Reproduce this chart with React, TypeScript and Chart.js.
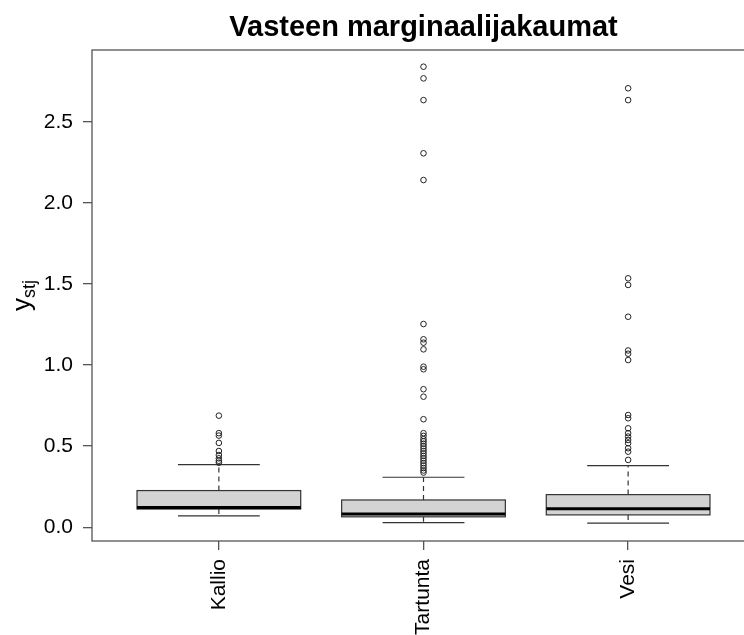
import React, { useEffect, useRef } from 'react';
import { Chart, registerables } from 'chart.js';

Chart.register(...registerables);

const chartTitle = 'Vasteen marginaalijakaumat';
const categories = ['Kallio', 'Tartunta', 'Vesi'];
const whiskerLow = [0.07, 0.028, 0.025];
const q1 = [0.112, 0.064, 0.076];
const medians = [0.121, 0.081, 0.114];
const q3 = [0.226, 0.168, 0.201];
const whiskerHigh = [0.386, 0.308, 0.38];
const kallioOutliers = [0.688, 0.58, 0.565, 0.52, 0.47, 0.445, 0.425, 0.41, 0.398];
const tartuntaOutliers = [
  2.84, 2.768, 2.634, 2.306, 2.141, 1.253, 1.159, 1.138, 1.097, 0.99, 0.974, 0.851, 0.805,
  0.666, 0.58, 0.563, 0.543, 0.53, 0.515, 0.5, 0.485, 0.47, 0.455, 0.44, 0.425, 0.41,
  0.395, 0.38, 0.365, 0.35, 0.337,
];
const vesiOutliers = [
  2.707, 2.634, 1.535, 1.494, 1.298, 1.09, 1.07, 1.031, 0.692, 0.672, 0.61, 0.58, 0.559,
  0.538, 0.518, 0.487, 0.466, 0.415,
];
const yTicks = [0, 0.5, 1, 1.5, 2, 2.5];

const FONT = "'Liberation Sans', Arial, sans-serif";

const boxPlugin = {
  id: 'rBoxplot',
  beforeDatasetsDraw(chart: any) {
    const { ctx } = chart;
    const x = chart.scales.x;
    const y = chart.scales.y;
    ctx.save();
    categories.forEach((_, i) => {
      const c = i + 1;
      const xc = x.getPixelForValue(c);
      const xl = x.getPixelForValue(c - 0.4);
      const xr = x.getPixelForValue(c + 0.4);
      const cl = x.getPixelForValue(c - 0.2);
      const cr = x.getPixelForValue(c + 0.2);
      const yLo = y.getPixelForValue(whiskerLow[i]);
      const yQ1 = y.getPixelForValue(q1[i]);
      const yMed = y.getPixelForValue(medians[i]);
      const yQ3 = y.getPixelForValue(q3[i]);
      const yHi = y.getPixelForValue(whiskerHigh[i]);
      ctx.strokeStyle = '#333';
      ctx.lineWidth = 1.2;
      ctx.setLineDash([5, 4]);
      ctx.beginPath();
      ctx.moveTo(xc, yQ3);
      ctx.lineTo(xc, yHi);
      ctx.moveTo(xc, yQ1);
      ctx.lineTo(xc, yLo);
      ctx.stroke();
      ctx.setLineDash([]);
      ctx.beginPath();
      ctx.moveTo(cl, yHi);
      ctx.lineTo(cr, yHi);
      ctx.moveTo(cl, yLo);
      ctx.lineTo(cr, yLo);
      ctx.stroke();
      ctx.fillStyle = '#D3D3D3';
      ctx.fillRect(xl, yQ3, xr - xl, yQ1 - yQ3);
      ctx.strokeRect(xl, yQ3, xr - xl, yQ1 - yQ3);
      ctx.strokeStyle = '#000';
      ctx.lineWidth = 3;
      ctx.beginPath();
      ctx.moveTo(xl, yMed);
      ctx.lineTo(xr, yMed);
      ctx.stroke();
    });
    ctx.restore();
  },
  afterDraw(chart: any) {
    const { ctx, chartArea } = chart;
    ctx.save();
    ctx.strokeStyle = '#555';
    ctx.lineWidth = 1.3;
    ctx.strokeRect(chartArea.left, chartArea.top, chartArea.right - chartArea.left, chartArea.bottom - chartArea.top);
    ctx.fillStyle = '#000';
    ctx.font = `bold 29px ${FONT}`;
    ctx.textAlign = 'center';
    ctx.textBaseline = 'alphabetic';
    ctx.fillText(chartTitle, (chartArea.left + chartArea.right) / 2, 36);
    const cy = (chartArea.top + chartArea.bottom) / 2;
    ctx.translate(30, cy);
    ctx.rotate(-Math.PI / 2);
    ctx.textAlign = 'left';
    ctx.font = `26px ${FONT}`;
    const wy = ctx.measureText('y').width;
    ctx.font = `18px ${FONT}`;
    const ws = ctx.measureText('stj').width;
    const start = -(wy + ws) / 2;
    ctx.font = `26px ${FONT}`;
    ctx.fillText('y', start, 0);
    ctx.font = `18px ${FONT}`;
    ctx.fillText('stj', start + wy, 5);
    ctx.restore();
  },
};

export default function App() {
  const ref = useRef<HTMLCanvasElement>(null);
  useEffect(() => {
    if (!ref.current) return;
    const pts = (arr: number[], c: number) => arr.map((v) => ({ x: c, y: v }));
    const chart = new Chart(ref.current, {
      type: 'scatter',
      data: {
        datasets: [
          {
            data: [
              ...pts(kallioOutliers, 1),
              ...pts(tartuntaOutliers, 2),
              ...pts(vesiOutliers, 3),
            ],
            pointStyle: 'circle',
            pointRadius: 2.8,
            borderWidth: 1,
            borderColor: '#222',
            backgroundColor: 'rgba(0,0,0,0)',
          },
        ],
      },
      options: {
        responsive: false,
        animation: false,
        devicePixelRatio: 1,
        layout: { padding: { top: 50, right: 15, left: 0, bottom: 0 } },
        plugins: { legend: { display: false }, tooltip: { enabled: false }, title: { display: false } },
        scales: {
          x: {
            type: 'linear',
            min: 0.38,
            max: 3.62,
            afterBuildTicks: (s: any) => {
              s.ticks = categories.map((_, i) => ({ value: i + 1 }));
            },
            afterFit: (s: any) => {
              s.height = 94;
            },
            ticks: {
              callback: (v: any) => categories[Math.round(Number(v)) - 1],
              minRotation: 90,
              maxRotation: 90,
              autoSkip: false,
              padding: 9,
              color: '#000',
              font: { family: FONT, size: 21 },
            },
            grid: { drawOnChartArea: false, drawTicks: true, tickLength: 9, color: '#555', lineWidth: 1.3 },
            border: { display: false },
          },
          y: {
            type: 'linear',
            min: -0.085,
            max: 2.943,
            afterBuildTicks: (s: any) => {
              s.ticks = yTicks.map((v) => ({ value: v }));
            },
            afterFit: (s: any) => {
              s.width = 92;
            },
            ticks: {
              callback: (v: any) => Number(v).toFixed(1),
              padding: 10,
              color: '#000',
              font: { family: FONT, size: 21 },
            },
            grid: { drawOnChartArea: false, drawTicks: true, tickLength: 9, color: '#555', lineWidth: 1.3 },
            border: { display: false },
          },
        },
      },
      plugins: [boxPlugin],
    });
    return () => chart.destroy();
  }, []);
  return (
    <div style={{ position: 'absolute', left: 0, top: 0, width: 744, height: 635, overflow: 'hidden', background: '#fff' }}>
      <canvas ref={ref} width={770} height={635} style={{ display: 'block' }} />
    </div>
  );
}
